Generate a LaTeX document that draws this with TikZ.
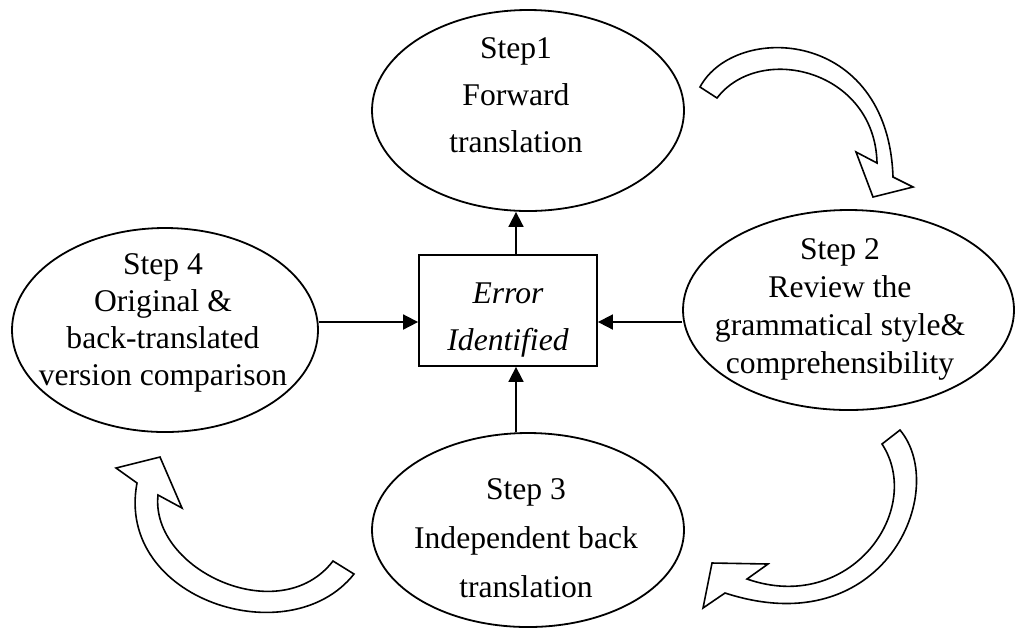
\documentclass[tikz,border=0pt]{standalone}
\usepackage{fontspec}
\setmainfont{Liberation Serif}
\usetikzlibrary{shapes.geometric,arrows.meta}

\tikzset{
  stepshape/.style={draw, ellipse, line width=0.9pt, inner sep=0pt},
  steptext/.style={align=center, inner sep=0pt,
    font=\fontsize{15.8}{#1}\selectfont},
  steptext/.default=19,
  errbox/.style={draw, rectangle, line width=0.9pt,
    minimum width=89pt, minimum height=55.5pt, inner sep=0pt},
  errtext/.style={align=center, inner sep=0pt,
    font=\fontsize{15.8}{23.5}\selectfont\itshape},
  flow/.style={line width=0.9pt, -{Triangle[length=7.5pt,width=7.5pt]}},
  bentarrow/.style={draw, line width=0.8pt, line join=miter},
}

\begin{document}
\begin{tikzpicture}[x=0.5pt,y=-0.5pt]
  \useasboundingbox (0,0) rectangle (1016,629);

  % the four steps
  \node[stepshape, minimum width=156pt, minimum height=100.5pt] (s1) at (528,110.5) {};
  \node[stepshape, minimum width=165.5pt, minimum height=100pt] (s2) at (848.5,310) {};
  \node[stepshape, minimum width=156pt, minimum height=97pt] (s3) at (528,530) {};
  \node[stepshape, minimum width=153pt, minimum height=102pt] (s4) at (165,330) {};

  \node[steptext=23.5] (t1) at (516,95.5) {Step1\\Forward\\translation};
  \node[steptext] (t2) at (840,309) {Step 2\\Review the\\grammatical style\&\\comprehensibility};
  \node[steptext=24.5] (t3) at (526,538) {Step 3\\Independent back\\translation};
  \node[steptext=18.5] (t4) at (163,322.5) {Step 4\\Original \&\\back-translated\\version comparison};

  % error box in the middle
  \node[errbox] (err) at (508,310.5) {};
  \node[errtext] (errlabel) at (508,320) {Error\\Identified};

  \coordinate (errtop) at ([xshift=4pt]err.north);
  \coordinate (errbot) at ([xshift=4pt]err.south);
  \coordinate (errleft) at ([yshift=-5.75pt]err.west);
  \coordinate (errright) at ([yshift=-5.75pt]err.east);

  \draw[flow] (errtop) -- (errtop |- s1.south);
  \draw[flow] (errbot |- s3.north) -- (errbot);
  \draw[flow] (errleft -| s4.east) -- (errleft);
  \draw[flow] (errright -| s2.west) -- (errright);

  % curved arrows between the steps
  \draw[bentarrow] (700,87) .. controls (735,22) and (888,28) .. (893,177)
    -- (913,187) -- (873,197) -- (856,152) -- (877,163)
    .. controls (875,70) and (760,42) .. (717,98) -- cycle;
  \draw[bentarrow] (900,430) .. controls (950,490) and (885,645) .. (725,593)
    -- (703,608) -- (712,563) -- (768,564) -- (747,579)
    .. controls (850,615) and (925,510) .. (882,444) -- cycle;
  \draw[bentarrow] (354,574) .. controls (290,655) and (115,600) .. (137,483)
    -- (116,468) -- (160,457) -- (182,508) -- (158,495)
    .. controls (150,570) and (280,630) .. (333,561) -- cycle;
\end{tikzpicture}
\end{document}
